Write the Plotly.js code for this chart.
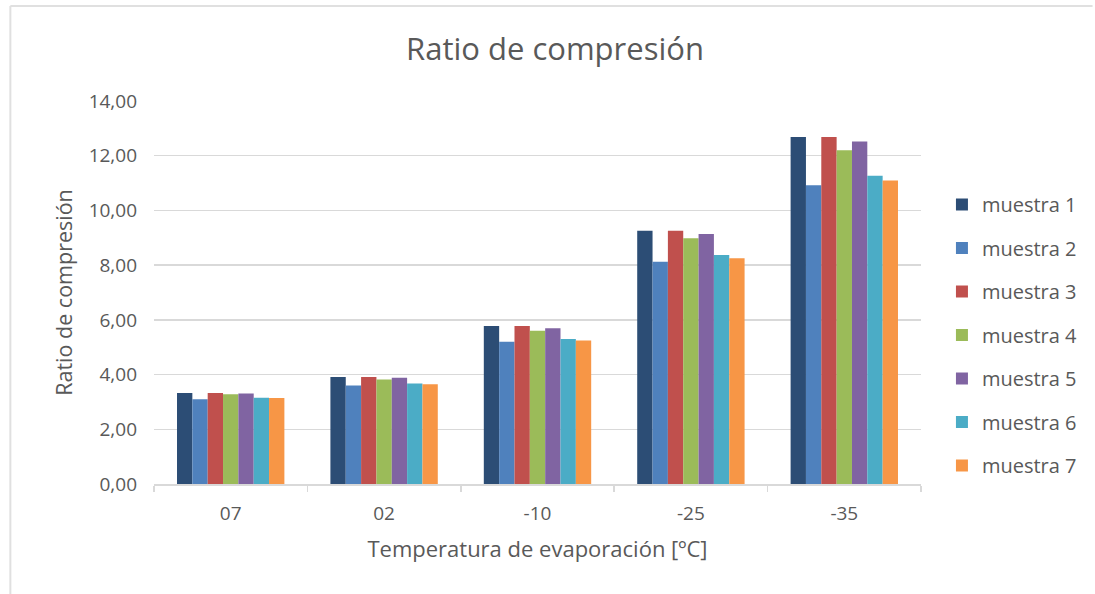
<!DOCTYPE html>
<html>
<head>
<meta charset="utf-8">
<script src="https://cdn.plot.ly/plotly-3.0.1.min.js"></script>
<style>
  html, body { margin: 0; padding: 0; background: #ffffff; }
  #chart { width: 1095px; height: 594px; }
</style>
</head>
<body>
<div id="chart"></div>
<script>
// Evaporation temperatures (categories on the x axis)
const temperaturas = ['07', '02', '-10', '-25', '-35'];

// Compression ratio per sample
const muestra1 = [3.33, 3.91, 5.78, 9.26, 12.68];
const muestra2 = [3.10, 3.60, 5.20, 8.12, 10.92];
const muestra3 = [3.33, 3.91, 5.78, 9.26, 12.68];
const muestra4 = [3.28, 3.82, 5.60, 8.98, 12.20];
const muestra5 = [3.31, 3.88, 5.69, 9.14, 12.52];
const muestra6 = [3.15, 3.67, 5.30, 8.37, 11.27];
const muestra7 = [3.14, 3.65, 5.25, 8.25, 11.09];

const nombres = ['muestra 1', 'muestra 2', 'muestra 3', 'muestra 4', 'muestra 5', 'muestra 6', 'muestra 7'];
const series = [muestra1, muestra2, muestra3, muestra4, muestra5, muestra6, muestra7];
const colores = ['#2c4d75', '#4f81bd', '#c0504d', '#9bbb59', '#8064a2', '#4bacc6', '#f79646'];

const textColor = '#595959';
const lineColor = '#d9d9d9';
const fontFamily = '"Open Sans", "Noto Sans", sans-serif';

const traces = series.map((vals, i) => ({
  type: 'bar',
  name: nombres[i],
  x: temperaturas,
  y: vals,
  legendgroup: 'g' + i,
  marker: { color: colores[i], line: { width: 0 } },
  hoverinfo: 'x+y+name'
}));

// Plot area: x 154..923 px, y 101..484 px
const L = 154, R = 923, T = 101, B = 484, W = 1095, H = 594;
const px = v => (v - L) / (R - L);
const py = v => (B - v) / (B - T);

const layout = {
  width: W,
  height: H,
  paper_bgcolor: '#ffffff',
  plot_bgcolor: '#ffffff',
  separators: ',.',
  margin: { l: L, r: W - R, t: T, b: H - B, pad: 0 },
  font: { family: fontFamily, color: textColor, size: 19 },
  title: {
    text: 'Ratio de compresión',
    font: { family: fontFamily, size: 31, color: textColor },
    x: 555 / W,
    xanchor: 'center',
    y: 1 - 49 / H,
    yanchor: 'middle'
  },
  barmode: 'group',
  bargap: 0.3,
  bargroupgap: 0,
  xaxis: {
    type: 'category',
    showline: true,
    linecolor: lineColor,
    linewidth: 1.5,
    ticks: 'outside',
    tickson: 'boundaries',
    ticklen: 6,
    tickcolor: lineColor,
    tickwidth: 1.5,
    showgrid: false,
    ticklabelstandoff: 12,
    tickfont: { size: 19, color: textColor },
    title: { text: 'Temperatura de evaporación [ºC]', font: { size: 22, color: textColor }, standoff: 16 }
  },
  yaxis: {
    range: [0, 14],
    dtick: 2,
    tickformat: '.2f',
    showgrid: true,
    gridcolor: lineColor,
    gridwidth: 1.5,
    zeroline: false,
    showline: false,
    ticks: '',
    ticklabelstandoff: 16,
    tickfont: { size: 19, color: textColor },
    title: { text: 'Ratio de compresión', font: { size: 21.5, color: textColor }, standoff: 10 }
  },
  showlegend: true,
  legend: {
    x: px(944),
    xanchor: 'left',
    y: py(185),
    yanchor: 'top',
    traceorder: 'grouped',
    tracegroupgap: 14.5,
    font: { size: 20, color: textColor },
    itemwidth: 30,
    bgcolor: 'rgba(0,0,0,0)'
  },
  shapes: [
    // chart frame: top and left edges
    { type: 'line', xref: 'paper', yref: 'paper', x0: px(10), x1: px(1095), y0: py(6), y1: py(6), line: { color: '#e0e0e0', width: 2 } },
    { type: 'line', xref: 'paper', yref: 'paper', x0: px(10), x1: px(10), y0: py(6), y1: py(594), line: { color: '#e0e0e0', width: 2 } }
  ]
};

Plotly.newPlot('chart', traces, layout, { displayModeBar: false, staticPlot: true });
</script>
</body>
</html>
